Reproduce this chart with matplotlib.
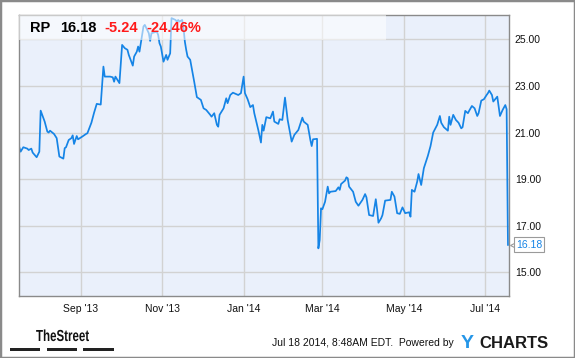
import numpy as np
import matplotlib
matplotlib.use('Agg')
import matplotlib.pyplot as plt
from matplotlib.patches import Rectangle, PathPatch
from matplotlib.textpath import TextPath
from matplotlib.font_manager import FontProperties
from matplotlib.transforms import Affine2D

# RP daily close, one year to Jul 18 2014
start_date = np.datetime64('2013-07-17')
day_offsets = [0, 1, 3, 6, 7, 9, 10, 13, 15, 16, 19, 21, 22, 23, 26, 28, 30, 33, 34, 35,
               37, 39, 40, 41, 43, 44, 47, 50, 51, 54, 56, 58, 61, 63, 64, 68, 70, 71, 72, 75,
               77, 79, 81, 82, 85, 86, 88, 89, 90, 91, 93, 94, 97, 98, 99, 103, 104, 105, 106, 108,
               110, 111, 113, 114, 117, 118, 119, 120, 122, 123, 124, 125, 126, 128, 131, 133, 136, 138, 140, 143,
               144, 146, 148, 149, 150, 153, 154, 155, 156, 158, 160, 162, 164, 166, 168, 169, 171, 173, 175, 176,
               179, 181, 182, 183, 185, 188, 190, 191, 194, 195, 197, 199, 201, 204, 206, 209, 212, 213, 216, 218,
               219, 220, 223, 224, 225, 226, 227, 229, 231, 232, 233, 237, 239, 240, 241, 244, 245, 246, 247, 250,
               252, 254, 257, 259, 260, 262, 265, 267, 268, 269, 271, 272, 274, 278, 279, 281, 283, 285, 287, 289,
               292, 293, 294, 296, 298, 299, 301, 303, 306, 308, 310, 313, 315, 316, 318, 321, 322, 323, 325, 327,
               329, 331, 332, 334, 336, 337, 339, 341, 343, 344, 346, 348, 350, 351, 352, 354, 355, 358, 360, 362,
               364, 365, 366]
prices = [20.37, 20.18, 20.37, 20.31, 20.25, 20.31, 20.14, 19.94, 20.18, 21.94, 21.47, 21.04, 21.00, 21.08, 20.94, 20.76, 19.97, 19.88, 20.33, 20.37,
          20.68, 20.76, 20.88, 20.51, 20.85, 20.71, 20.82, 20.94, 20.97, 21.42, 21.85, 22.23, 22.20, 23.83, 23.40, 23.40, 23.37, 23.18, 23.40, 23.12,
          24.76, 24.62, 24.55, 24.33, 23.87, 24.26, 24.47, 24.69, 24.47, 24.83, 25.55, 25.62, 25.26, 24.93, 25.26, 25.33, 25.19, 24.83, 24.69, 24.04,
          24.33, 24.12, 24.40, 25.91, 25.83, 25.76, 25.83, 25.76, 25.83, 25.48, 24.90, 24.55, 24.26, 24.12, 23.18, 22.52, 22.40, 22.04, 21.97, 21.76,
          21.68, 21.83, 21.33, 21.25, 21.76, 22.04, 22.26, 22.47, 22.26, 22.61, 22.71, 22.66, 22.61, 22.69, 23.40, 22.69, 22.43, 22.09, 22.18, 21.83,
          21.11, 20.57, 21.33, 21.08, 21.66, 21.61, 21.90, 21.47, 21.37, 21.57, 21.54, 22.50, 21.54, 20.61, 20.90, 21.11, 21.64, 21.47, 21.33, 20.68,
          20.42, 20.71, 20.73, 16.03, 16.39, 17.75, 17.71, 18.03, 18.68, 18.39, 18.46, 18.49, 18.65, 18.54, 18.79, 18.94, 19.08, 19.04, 18.68, 18.46,
          18.03, 17.86, 18.11, 18.36, 18.22, 17.46, 17.42, 18.14, 17.68, 17.13, 17.32, 17.46, 18.08, 18.11, 18.46, 18.25, 17.54, 17.51, 17.79, 17.54,
          17.58, 17.39, 18.54, 18.46, 18.89, 19.22, 18.75, 19.47, 20.00, 20.42, 21.00, 21.33, 21.71, 21.42, 21.23, 21.08, 21.68, 21.33, 21.76, 21.54,
          21.42, 21.18, 21.23, 21.93, 21.83, 21.94, 22.14, 22.04, 21.71, 21.83, 22.37, 22.43, 22.61, 22.69, 22.80, 22.61, 22.33, 22.54, 21.71, 21.97,
          22.18, 22.00, 16.18]

ticker = 'RP'
last_price = '16.18'
change = '-5.24'
change_pct = '-24.46%'
month_ticks = ['2013-09-01', '2013-11-01', '2014-01-01', '2014-03-01', '2014-05-01', '2014-07-01']
month_labels = ["Sep '13", "Nov '13", "Jan '14", "Mar '14", "May '14", "Jul '14"]
price_ticks = [15, 17, 19, 21, 23, 25]
stamp = 'Jul 18 2014, 8:48AM EDT.  Powered by'

plt.rcParams['font.family'] = ['Liberation Sans', 'DejaVu Sans']

W, H = 575, 358
fig = plt.figure(figsize=(W / 100, H / 100), dpi=100)
fig.patch.set_facecolor('white')

# pixel helpers
def fx(px):
    return px / W

def fy(py):
    return 1 - py / H

ax = fig.add_axes([fx(19.3), fy(295.7), (509.3 - 19.3) / W, (295.7 - 15.3) / H])
ax.set_facecolor('#eaf0fb')

dates = start_date + np.array(day_offsets).astype('timedelta64[D]')
ax.plot(dates, prices, color='#1584e6', lw=1.25, zorder=2)

ax.set_xlim(start_date, start_date + np.timedelta64(367, 'D'))
ax.set_ylim(14.0, 26.03)

ax.set_xticks(np.array(month_ticks, dtype='datetime64[D]'))
ax.set_xticklabels(month_labels)
ax.set_yticks(price_ticks)
ax.set_yticklabels(['%.2f' % v for v in price_ticks])
ax.yaxis.tick_right()
ax.tick_params(length=0, labelsize=7.5, colors='#111111')
ax.tick_params(axis='y', pad=4)
ax.tick_params(axis='x', pad=6)
ax.grid(True, color='#d2d2d2', lw=1.0, zorder=1)
ax.set_axisbelow(True)
for s in ax.spines.values():
    s.set_color('#8a8a8a')
    s.set_linewidth(1.0)

# translucent header box over the line
ax.add_patch(Rectangle((0, (295.7 - 40) / 280.4), (386 - 19.3) / 490, 1 - (295.7 - 40) / 280.4,
                       transform=ax.transAxes, facecolor='white', alpha=0.55,
                       edgecolor='none', zorder=3))
hy = fy(28.5)
fig.text(fx(30), hy, ticker, fontsize=10.5, fontweight='bold', color='black', va='center')
fig.text(fx(60), hy, last_price, fontsize=10.5, fontweight='bold', color='black', va='center')
fig.text(fx(104), hy, change, fontsize=10.5, fontweight='bold', color='#ff1a1a', va='center')
fig.text(fx(146), hy, change_pct, fontsize=10.5, fontweight='bold', color='#ff1a1a', va='center')

# last price callout
fig.text(fx(516), fy(244.5), last_price, fontsize=7.5, color='#1584e6', va='center',
         bbox=dict(boxstyle='square,pad=0.2', fc='white', ec='#9a9a9a', lw=0.8))
fig.add_artist(plt.Line2D([fx(512.5)], [fy(244.5)], marker='<', ms=5, mfc='white',
                          mec='#9a9a9a', mew=0.8, transform=fig.transFigure))

# footer: condensed "TheStreet" wordmark
fp = FontProperties(family='Liberation Sans', weight='bold')
tp = TextPath((0, 0), 'TheStreet', size=16, prop=fp)
fig.add_artist(PathPatch(tp, fc='#111111', ec='none',
                         transform=Affine2D().scale(0.72, 1.0).translate(36, H - 341)))
for x0, x1 in [(10, 40), (47, 77), (83, 114)]:
    fig.add_artist(Rectangle((fx(x0), fy(351)), (x1 - x0) / W, 3 / H,
                             transform=fig.transFigure, fc='#222222', ec='none'))
fig.text(fx(272), fy(343), stamp, fontsize=7.5, color='#111111', va='center')
fig.text(fx(461), fy(343), 'Y', fontsize=14, fontweight='bold', color='#2596e8', va='center')
for ch, x in zip('CHARTS', [479, 491, 503, 515, 527, 536.5]):
    fig.text(fx(x), fy(343), ch, fontsize=12, fontweight='bold', color='#1a1a1a', va='center')

# outer border
fig.add_artist(Rectangle((0, 0), 1, 1, transform=fig.transFigure, fill=False,
                         ec='#8a8a8a', lw=2.5))

fig.savefig('out.png', dpi=100)
